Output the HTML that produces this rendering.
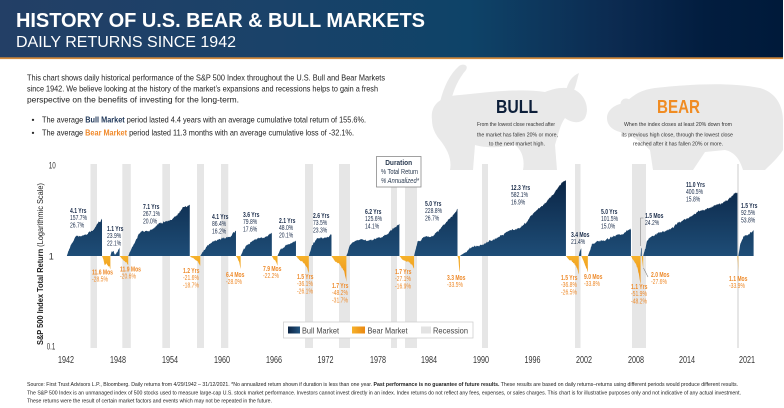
<!DOCTYPE html>
<html><head><meta charset="utf-8">
<style>
html,body{margin:0;padding:0;background:#fff}
svg{display:block}
text{font-family:"Liberation Sans",Arial,sans-serif}
.ub text{font-size:7px;fill:#1b2d4b}
.db text{font-size:7px;fill:#ee8a2a}
.h{font-weight:bold}
.yr{font-size:10px;fill:#333}
.ft{font-size:5.5px;fill:#222}
</style></head>
<body>
<svg width="784" height="408" viewBox="0 0 784 408" xmlns="http://www.w3.org/2000/svg">
<defs>
<linearGradient id="hdr" x1="0" y1="0" x2="1" y2="0">
<stop offset="0" stop-color="#233f66"/>
<stop offset="0.35" stop-color="#1a4269"/>
<stop offset="0.6" stop-color="#0e4368"/>
<stop offset="0.78" stop-color="#0c2b51"/>
<stop offset="0.9" stop-color="#021d3f"/>
<stop offset="1" stop-color="#001a3a"/>
</linearGradient>
<linearGradient id="gu" gradientUnits="userSpaceOnUse" x1="0" y1="178" x2="0" y2="256">
<stop offset="0" stop-color="#0a2444"/>
<stop offset="1" stop-color="#1e4d77"/>
</linearGradient>
<linearGradient id="gd" gradientUnits="userSpaceOnUse" x1="0" y1="256" x2="0" y2="290">
<stop offset="0" stop-color="#f6b22b"/>
<stop offset="1" stop-color="#e9850f"/>
</linearGradient>
<linearGradient id="lu" x1="0" y1="0" x2="1" y2="0">
<stop offset="0" stop-color="#0a2444"/><stop offset="1" stop-color="#24557f"/>
</linearGradient>
<linearGradient id="ld" x1="0" y1="0" x2="1" y2="0">
<stop offset="0" stop-color="#f6b22b"/><stop offset="1" stop-color="#ea8812"/>
</linearGradient>
</defs>

<rect width="784" height="408" fill="#fff"/>

<!-- header -->
<rect x="0" y="0" width="783" height="57.5" fill="url(#hdr)"/>
<rect x="0" y="57.3" width="783" height="1.8" fill="#d28a3c"/>
<text x="16" y="27" font-size="20" font-weight="bold" fill="#fff" textLength="409" lengthAdjust="spacing">HISTORY OF U.S. BEAR &amp; BULL MARKETS</text>
<text x="16" y="47" font-size="16" fill="#fff" textLength="220" lengthAdjust="spacing">DAILY RETURNS SINCE 1942</text>

<!-- silhouettes -->
<g fill="#e9e9e9">
<!-- bull facing right -->
<path d="M432,120 C430,105 440,96 460,95 C490,92 520,88 545,92 C555,88 565,86 575,90 C585,95 590,108 585,118 C580,125 570,122 565,118 C560,125 558,135 555,145 L557,170 L523,170 C525,160 522,150 515,145 C500,148 485,148 475,145 L473,170 L450,170 C452,160 448,150 440,140 C434,133 432,126 432,120 Z"/>
<path d="M566,91 C568,82 572,76 579,73 C577,80 576,86 573,93 Z"/>
<path d="M440,102 C444,86 450,74 459,66 C463,63 469,65 466,70 C459,78 453,90 451,102 Z"/>
<!-- bear facing left -->
<path d="M607,118 C607,110 615,104 625,103 C632,96 640,90 655,88 C690,84 730,82 760,88 C775,92 783,105 783,120 L783,150 C778,158 770,165 765,170 L743,170 C740,160 735,152 725,150 L705,152 L693,170 L653,170 L650,150 C640,140 630,135 620,132 C612,130 607,125 607,118 Z"/>
<circle cx="626" cy="104" r="5.5"/>
</g>

<!-- intro text -->
<g font-size="8.5" fill="#222">
<text x="27" y="80.5" textLength="358" lengthAdjust="spacingAndGlyphs">This chart shows daily historical performance of the S&amp;P 500 Index throughout the U.S. Bull and Bear Markets</text>
<text x="27" y="91.5" textLength="351" lengthAdjust="spacingAndGlyphs">since 1942. We believe looking at the history of the market’s expansions and recessions helps to gain a fresh</text>
<text x="27" y="102.3" textLength="212" lengthAdjust="spacingAndGlyphs">perspective on the benefits of investing for the long-term.</text>
<text x="31.5" y="122.5">•</text>
<text x="31.5" y="135.5">•</text>
<text x="42" y="122.5" textLength="324" lengthAdjust="spacingAndGlyphs">The average <tspan font-weight="bold" fill="#1d3557">Bull Market</tspan> period lasted 4.4 years with an average cumulative total return of 155.6%.</text>
<text x="42" y="135.5" textLength="312" lengthAdjust="spacingAndGlyphs">The average <tspan font-weight="bold" fill="#f0892a">Bear Market</tspan> period lasted 11.3 months with an average cumulative loss of -32.1%.</text>
</g>

<!-- BULL / BEAR -->
<text x="496" y="113" font-size="18" font-weight="bold" fill="#0d1f3a" textLength="42" lengthAdjust="spacingAndGlyphs">BULL</text>
<text x="657" y="113" font-size="18" font-weight="bold" fill="#f08c23" textLength="43" lengthAdjust="spacingAndGlyphs">BEAR</text>
<g font-size="5.8" fill="#333">
<text x="477" y="126" textLength="78" lengthAdjust="spacingAndGlyphs">From the lowest close reached after</text>
<text x="477" y="136.3" textLength="81" lengthAdjust="spacingAndGlyphs">the market has fallen 20% or more,</text>
<text x="489" y="145.3" textLength="56" lengthAdjust="spacingAndGlyphs">to the next market high.</text>
<text x="624" y="126" textLength="108" lengthAdjust="spacingAndGlyphs">When the index closes at least 20% down from</text>
<text x="621.5" y="136.3" textLength="111.5" lengthAdjust="spacingAndGlyphs">its previous high close, through the lowest close</text>
<text x="633" y="145.3" textLength="90" lengthAdjust="spacingAndGlyphs">reached after it has fallen 20% or more.</text>
</g>

<!-- recession stripes -->
<g fill="#e6e6e6">
<rect x="90.5" y="164" width="6.5" height="184"/>
<rect x="122.3" y="164" width="8.5" height="184"/>
<rect x="162.3" y="164" width="7.7" height="184"/>
<rect x="197" y="164" width="7" height="184"/>
<rect x="221" y="164" width="7.3" height="184"/>
<rect x="305" y="164" width="8" height="184"/>
<rect x="339" y="164" width="11" height="184"/>
<rect x="391" y="164" width="6" height="184"/>
<rect x="405" y="164" width="12" height="184"/>
<rect x="482" y="164" width="6" height="184"/>
<rect x="575" y="164" width="5.5" height="184"/>
<rect x="632" y="164" width="14" height="184"/>
<rect x="737" y="164" width="2" height="184"/>
</g>

<g id="areas"></g>

<!-- connectors -->
<g stroke="#888" stroke-width="0.6" fill="none">
<path d="M643.5,218 L640.5,218 L640.5,246"/>
<path d="M643.5,268 L648,277"/>
</g>

<!-- bull labels -->
<g class="ub" transform="translate(70,213) scale(.72,1)"><text class="h">4.1 Yrs</text><text y="7.2">157.7%</text><text y="14.4">26.7%</text></g>
<g class="ub" transform="translate(107,231) scale(.72,1)"><text class="h">1.1 Yrs</text><text y="7.2">23.9%</text><text y="14.4">22.1%</text></g>
<g class="ub" transform="translate(143,209) scale(.72,1)"><text class="h">7.1 Yrs</text><text y="7.2">267.1%</text><text y="14.4">20.0%</text></g>
<g class="ub" transform="translate(212,219) scale(.72,1)"><text class="h">4.1 Yrs</text><text y="7.2">86.4%</text><text y="14.4">16.2%</text></g>
<g class="ub" transform="translate(243,217) scale(.72,1)"><text class="h">3.6 Yrs</text><text y="7.2">79.8%</text><text y="14.4">17.6%</text></g>
<g class="ub" transform="translate(279,223) scale(.72,1)"><text class="h">2.1 Yrs</text><text y="7.2">48.0%</text><text y="14.4">20.1%</text></g>
<g class="ub" transform="translate(313,218) scale(.72,1)"><text class="h">2.6 Yrs</text><text y="7.2">73.5%</text><text y="14.4">23.3%</text></g>
<g class="ub" transform="translate(365,214) scale(.72,1)"><text class="h">6.2 Yrs</text><text y="7.2">125.6%</text><text y="14.4">14.1%</text></g>
<g class="ub" transform="translate(425,206) scale(.72,1)"><text class="h">5.0 Yrs</text><text y="7.2">228.8%</text><text y="14.4">26.7%</text></g>
<g class="ub" transform="translate(511,190) scale(.72,1)"><text class="h">12.3 Yrs</text><text y="7.2">582.1%</text><text y="14.4">16.9%</text></g>
<g class="ub" transform="translate(571,237) scale(.72,1)"><text class="h">3.4 Mos</text><text y="7.2">21.4%</text></g>
<g class="ub" transform="translate(601,214) scale(.72,1)"><text class="h">5.0 Yrs</text><text y="7.2">101.5%</text><text y="14.4">15.0%</text></g>
<g class="ub" transform="translate(645,218) scale(.72,1)"><text class="h">1.5 Mos</text><text y="7.2">24.2%</text></g>
<g class="ub" transform="translate(686,187) scale(.72,1)"><text class="h">11.0 Yrs</text><text y="7.2">400.5%</text><text y="14.4">15.8%</text></g>
<g class="ub" transform="translate(741,208) scale(.72,1)"><text class="h">1.5 Yrs</text><text y="7.2">92.5%</text><text y="14.4">53.8%</text></g>

<!-- bear labels -->
<g class="db" transform="translate(92,274.5) scale(.72,1)"><text class="h">11.6 Mos</text><text y="7.2">-28.5%</text></g>
<g class="db" transform="translate(120,271.5) scale(.72,1)"><text class="h">11.9 Mos</text><text y="7.2">-20.6%</text></g>
<g class="db" transform="translate(183,273) scale(.72,1)"><text class="h">1.2 Yrs</text><text y="7.2">-21.6%</text><text y="14.4">-18.7%</text></g>
<g class="db" transform="translate(226,277) scale(.72,1)"><text class="h">6.4 Mos</text><text y="7.2">-28.0%</text></g>
<g class="db" transform="translate(263,271) scale(.72,1)"><text class="h">7.9 Mos</text><text y="7.2">-22.2%</text></g>
<g class="db" transform="translate(297,279) scale(.72,1)"><text class="h">1.5 Yrs</text><text y="7.2">-36.1%</text><text y="14.4">-26.1%</text></g>
<g class="db" transform="translate(332,288) scale(.72,1)"><text class="h">1.7 Yrs</text><text y="7.2">-48.2%</text><text y="14.4">-31.7%</text></g>
<g class="db" transform="translate(395,274) scale(.72,1)"><text class="h">1.7 Yrs</text><text y="7.2">-27.1%</text><text y="14.4">-16.9%</text></g>
<g class="db" transform="translate(447,280) scale(.72,1)"><text class="h">3.3 Mos</text><text y="7.2">-33.5%</text></g>
<g class="db" transform="translate(561,280) scale(.72,1)"><text class="h">1.5 Yrs</text><text y="7.2">-36.8%</text><text y="14.4">-26.5%</text></g>
<g class="db" transform="translate(584,279) scale(.72,1)"><text class="h">9.0 Mos</text><text y="7.2">-33.8%</text></g>
<g class="db" transform="translate(631,289) scale(.72,1)"><text class="h">1.1 Yrs</text><text y="7.2">-51.9%</text><text y="14.4">-48.2%</text></g>
<g class="db" transform="translate(651,277) scale(.72,1)"><text class="h">2.0 Mos</text><text y="7.2">-27.6%</text></g>
<g class="db" transform="translate(729,281) scale(.72,1)"><text class="h">1.1 Mos</text><text y="7.2">-33.9%</text></g>

<!-- duration box -->
<rect x="376.5" y="156.5" width="44.5" height="30.5" fill="#fff" stroke="#8a8a8a" stroke-width="0.8"/>
<g font-size="7" fill="#2a3a50" text-anchor="middle">
<text x="398.7" y="165" font-weight="bold" textLength="27" lengthAdjust="spacingAndGlyphs">Duration</text>
<text x="399.5" y="174" textLength="37" lengthAdjust="spacingAndGlyphs">% Total Return</text>
<text x="400" y="183" font-style="italic" textLength="38" lengthAdjust="spacingAndGlyphs">% Annualized*</text>
</g>

<!-- legend -->
<rect x="283.5" y="322" width="189.5" height="16" fill="#fff" stroke="#d0d0d0" stroke-width="0.8"/>
<rect x="288" y="326.5" width="12" height="7" fill="url(#lu)"/>
<rect x="352" y="326.5" width="13" height="7" fill="url(#ld)"/>
<rect x="421" y="326.5" width="10" height="7" fill="#e3e3e3"/>
<g font-size="8.5" fill="#444">
<text x="302" y="333.5" textLength="37" lengthAdjust="spacingAndGlyphs">Bull Market</text>
<text x="367.5" y="333.5" textLength="40" lengthAdjust="spacingAndGlyphs">Bear Market</text>
<text x="433" y="333.5" textLength="35" lengthAdjust="spacingAndGlyphs">Recession</text>
</g>

<!-- y axis -->
<g font-size="9" fill="#333" text-anchor="middle">
<text x="52.3" y="168.3" textLength="7" lengthAdjust="spacingAndGlyphs">10</text>
<text x="51.3" y="259.3">1</text>
<text x="51" y="349.5" textLength="8.5" lengthAdjust="spacingAndGlyphs">0.1</text>
</g>
<text transform="translate(43,264) rotate(-90)" font-size="8" fill="#222" text-anchor="middle" textLength="162" lengthAdjust="spacingAndGlyphs"><tspan font-weight="bold">S&amp;P 500 Index Total Return</tspan> (Logarithmic Scale)</text>

<!-- x axis years -->
<g class="yr" text-anchor="middle">
<text x="66" y="363" textLength="16" lengthAdjust="spacingAndGlyphs">1942</text>
<text x="118" y="363" textLength="16" lengthAdjust="spacingAndGlyphs">1948</text>
<text x="170" y="363" textLength="16" lengthAdjust="spacingAndGlyphs">1954</text>
<text x="222" y="363" textLength="16" lengthAdjust="spacingAndGlyphs">1960</text>
<text x="274" y="363" textLength="16" lengthAdjust="spacingAndGlyphs">1966</text>
<text x="325.5" y="363" textLength="16" lengthAdjust="spacingAndGlyphs">1972</text>
<text x="378" y="363" textLength="16" lengthAdjust="spacingAndGlyphs">1978</text>
<text x="429" y="363" textLength="16" lengthAdjust="spacingAndGlyphs">1984</text>
<text x="481" y="363" textLength="16" lengthAdjust="spacingAndGlyphs">1990</text>
<text x="532.5" y="363" textLength="16" lengthAdjust="spacingAndGlyphs">1996</text>
<text x="584" y="363" textLength="16" lengthAdjust="spacingAndGlyphs">2002</text>
<text x="636" y="363" textLength="16" lengthAdjust="spacingAndGlyphs">2008</text>
<text x="687" y="363" textLength="16" lengthAdjust="spacingAndGlyphs">2014</text>
<text x="747" y="363" textLength="16" lengthAdjust="spacingAndGlyphs">2021</text>
</g>

<!-- footer -->
<text class="ft" x="27" y="386" textLength="711" lengthAdjust="spacingAndGlyphs">Source: First Trust Advisors L.P., Bloomberg. Daily returns from 4/29/1942 – 31/12/2021. *No annualized return shown if duration is less than one year. <tspan font-weight="bold">Past performance is no guarantee of future results.</tspan> These results are based on daily  returns–returns using different periods would produce different results.</text>
<text class="ft" x="27" y="394.3" textLength="714" lengthAdjust="spacingAndGlyphs">The S&amp;P 500 Index is an unmanaged index of 500 stocks used to measure large-cap U.S. stock market performance. Investors cannot invest directly in an index. Index returns do not reflect any fees, expenses, or sales charges. This chart is for illustrative purposes only and not indicative of any actual investment.</text>
<text class="ft" x="27" y="402.7" textLength="245" lengthAdjust="spacingAndGlyphs">These returns were the result of certain market factors and events which may not be repeated in the future.</text>
</svg>

<script>
(function(){
var X=function(y){return 64+(y-1942)*8.62;};
var seed=987654;
function rnd(){seed=(seed*1103515245+12345)%2147483648;return seed/2147483648;}
var segs=[
['u',1942.33,1946.41,[[0,1],[.1,1.3],[.25,1.62],[.4,1.58],[.55,1.7],[.68,1.8],[.8,2.0],[.9,2.36],[1,2.577]]],
['d',1946.41,1947.38,[[0,1],[.15,.93],[.35,.8],[.55,.82],[.75,.76],[.9,.74],[1,.715]]],
['u',1947.38,1948.45,[[0,1],[.15,1.14],[.35,1.16],[.5,1.04],[.65,1.1],[.85,1.17],[1,1.239]]],
['d',1948.45,1949.45,[[0,1],[.2,.95],[.45,.88],[.7,.85],[.9,.82],[1,.794]]],
['u',1949.45,1956.59,[[0,1],[.05,1.2],[.2,1.75],[.35,1.85],[.5,2.05],[.65,2.3],[.8,2.7],[.9,3.35],[.96,3.5],[1,3.671]]],
['d',1956.59,1957.81,[[0,1],[.2,.95],[.45,.93],[.7,.88],[.9,.82],[1,.784]]],
['u',1957.81,1961.95,[[0,1],[.1,1.15],[.25,1.35],[.45,1.5],[.6,1.55],[.75,1.55],[.88,1.75],[1,1.864]]],
['d',1961.95,1962.49,[[0,1],[.3,.95],[.6,.88],[.85,.8],[1,.72]]],
['u',1962.49,1966.11,[[0,1],[.1,1.2],[.3,1.42],[.55,1.55],[.75,1.65],[.9,1.72],[1,1.798]]],
['d',1966.11,1966.77,[[0,1],[.3,.93],[.6,.9],[.85,.84],[1,.778]]],
['u',1966.77,1968.91,[[0,1],[.15,1.18],[.4,1.3],[.6,1.33],[.8,1.42],[1,1.48]]],
['d',1968.91,1970.40,[[0,1],[.2,.93],[.45,.88],[.65,.82],[.85,.74],[1,.639]]],
['u',1970.40,1973.03,[[0,1],[.12,1.25],[.35,1.45],[.6,1.55],[.8,1.62],[1,1.735]]],
['d',1973.03,1974.76,[[0,1],[.2,.9],[.45,.82],[.65,.78],[.85,.66],[1,.518]]],
['u',1974.76,1980.91,[[0,1],[.06,1.3],[.18,1.55],[.3,1.62],[.45,1.6],[.6,1.62],[.75,1.72],[.88,1.95],[1,2.256]]],
['d',1980.91,1982.61,[[0,1],[.25,.9],[.5,.86],[.75,.82],[.9,.78],[1,.729]]],
['u',1982.61,1987.65,[[0,1],[.08,1.45],[.25,1.65],[.45,1.72],[.6,2.0],[.75,2.35],[.88,2.7],[.95,3.0],[1,3.288]]],
['d',1987.65,1987.93,[[0,1],[.4,.92],[.7,.72],[1,.665]]],
['u',1987.93,2000.23,[[0,1],[.1,1.22],[.2,1.38],[.3,1.52],[.43,1.9],[.57,2.08],[.66,2.65],[.8,3.8],[.9,5.2],[.96,6.3],[1,6.821]]],
['d',2000.23,2001.72,[[0,1],[.2,.92],[.45,.88],[.65,.82],[.85,.76],[1,.632]]],
['u',2001.72,2002.01,[[0,1],[.4,1.12],[.7,1.15],[1,1.214]]],
['d',2002.01,2002.77,[[0,1],[.3,.9],[.6,.8],[.85,.72],[1,.662]]],
['u',2002.77,2007.77,[[0,1],[.1,1.3],[.3,1.45],[.5,1.52],[.7,1.7],[.88,1.9],[1,2.015]]],
['d',2007.77,2008.89,[[0,1],[.25,.9],[.5,.85],[.7,.75],[.85,.6],[1,.481]]],
['u',2008.89,2009.02,[[0,1],[.5,1.2],[1,1.242]]],
['d',2009.02,2009.19,[[0,1],[.5,.85],[1,.724]]],
['u',2009.19,2020.13,[[0,1],[.04,1.45],[.15,1.78],[.3,2.1],[.37,2.45],[.5,2.85],[.59,3.35],[.7,3.6],[.81,3.9],[.9,4.3],[1,5.005]]],
['d',2020.13,2020.22,[[0,1],[.5,.85],[1,.661]]],
['u',2020.22,2022.0,[[0,1],[.15,1.4],[.35,1.6],[.6,1.72],[.8,1.8],[1,1.925]]]
];
var g=document.getElementById('areas');
var ns='http://www.w3.org/2000/svg';
segs.forEach(function(s){
  var x0=X(s[1]),x1=X(s[2]),w=x1-x0,n=Math.max(4,Math.round(w*2.2));
  var pts=s[3],walk=[0],acc=0,i;
  for(i=1;i<=n;i++){acc+=(rnd()-0.5)*1.1;walk.push(acc);}
  var d='M'+x0.toFixed(2)+',256';
  for(i=0;i<=n;i++){
    var t=i/n,k=0;
    while(k<pts.length-2&&t>pts[k+1][0])k++;
    var a=pts[k],b=pts[k+1];
    var u=(t-a[0])/(b[0]-a[0]);
    var lv=Math.log(a[1])/Math.LN10+(Math.log(b[1])/Math.LN10-Math.log(a[1])/Math.LN10)*u;
    var y=256-lv*91;
    var amp=Math.min(1,Math.abs(256-y)/6);
    var nz=walk[i]-t*walk[n];
    if(i>0&&i<n){y+=nz*amp+(rnd()-0.5)*1.2*amp;}
    if(s[0]==='u')y=Math.min(y,256);else y=Math.max(y,256);
    d+='L'+(x0+t*w).toFixed(2)+','+y.toFixed(2);
  }
  d+='L'+x1.toFixed(2)+',256Z';
  var p=document.createElementNS(ns,'path');
  p.setAttribute('d',d);
  p.setAttribute('fill',s[0]==='u'?'url(#gu)':'url(#gd)');
  g.appendChild(p);
});
})();
</script>
</body></html>
